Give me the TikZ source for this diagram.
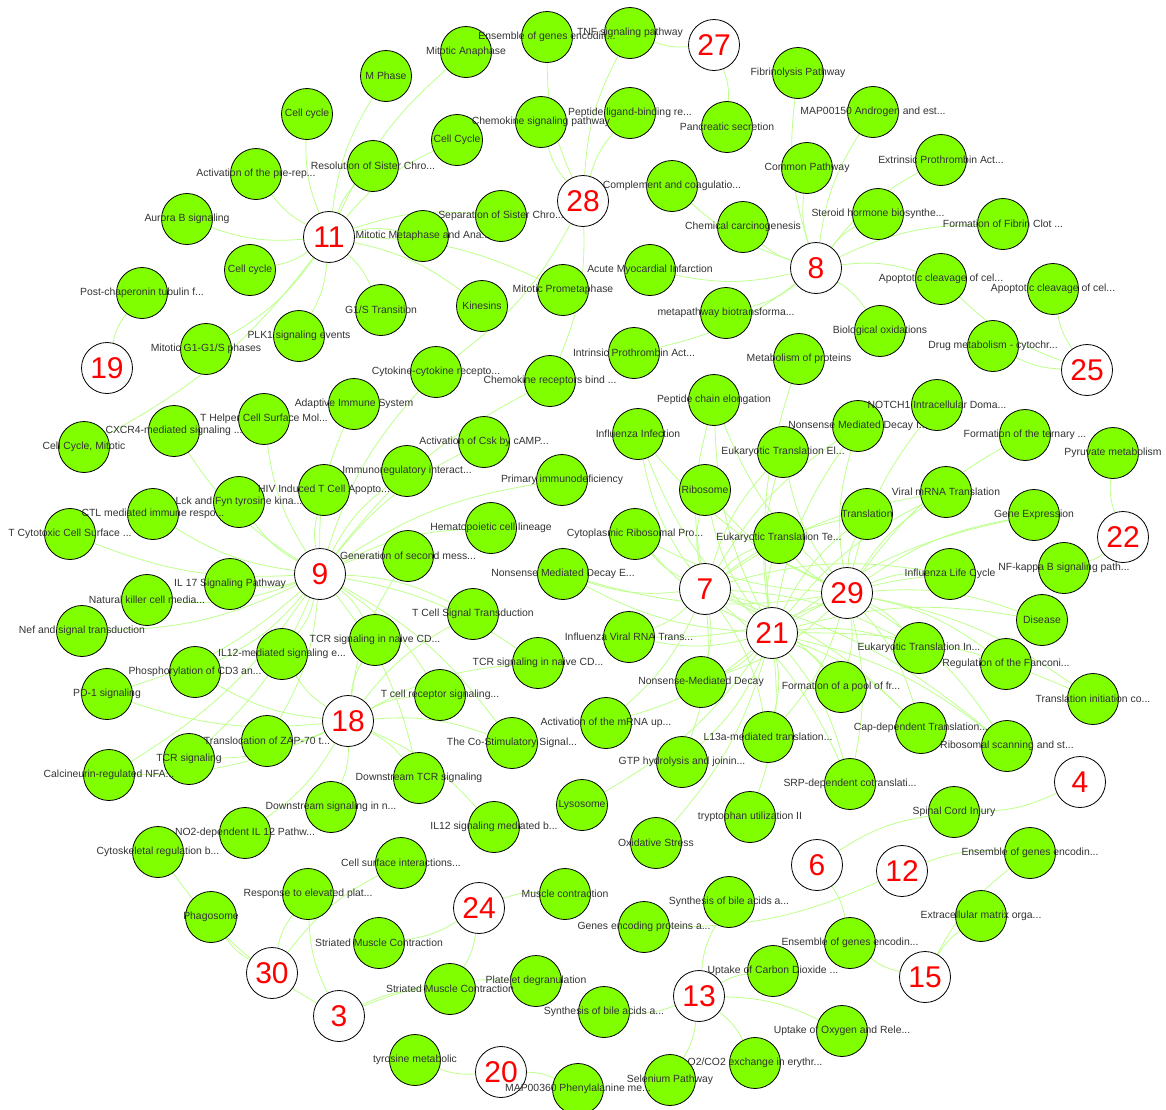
\documentclass[tikz,border=0pt]{standalone}
\usepackage{fontspec}
\setmainfont{Liberation Sans}
\usetikzlibrary{backgrounds}
\pgfdeclarelayer{fg}
\pgfsetlayers{background,main,fg}
\definecolor{ngreen}{RGB}{128,255,0}
\definecolor{egreen}{RGB}{190,255,140}
\tikzset{
  gnode/.style={circle, draw=black, line width=0.8pt, fill=ngreen, minimum size=51pt, inner sep=0pt},
  hub/.style={circle, draw=black, line width=0.8pt, fill=white, minimum size=51pt, inner sep=0pt, text=red, font=\fontsize{30}{30}\selectfont},
  lab/.style={font=\fontsize{10.4}{12}\selectfont, text=black!80, inner sep=0pt},
  conn/.style={draw=egreen, line width=0.8pt, bend left=12}
}
\begin{document}
\begin{tikzpicture}[x=1pt,y=-1pt]
\useasboundingbox (0,0) rectangle (1166,1109);
% hubs
\foreach \n/\x/\y in {27/714/45, 28/583/201, 11/329/237, 8/816/268, 19/107/368, 25/1087/370, 22/1123/537, 9/320/574, 7/705/589, 29/847/593, 21/772/633, 18/348/721, 4/1080/782, 6/817/865, 12/902/871, 24/479/908, 15/925/977, 30/272/973, 13/699/996, 3/339/1016, 20/501/1072}
  {\node[hub] (h\n) at (\x,\y) {\n};}
% green nodes
\foreach \n/\x/\y/\t in {
1/547/37/{Ensemble of genes encodin...},
2/630/33/{TNF signaling pathway},
3/466/52/{Mitotic Anaphase},
4/386/76/{M Phase},
5/307/114/{Cell cycle},
6/457/140/{Cell Cycle},
7/541/122/{Chemokine signaling pathway},
8/630/113/{Peptide ligand-binding re...},
9/727/127/{Pancreatic secretion},
10/798/73/{Fibrinolysis Pathway},
11/873/112/{MAP00150 Androgen and est...},
12/807/168/{Common Pathway},
13/941/160/{Extrinsic Prothrombin Act...},
14/878/214/{Steroid hormone biosynthe...},
15/1003/224/{Formation of Fibrin Clot ...},
16/672/186/{Complement and coagulatio...},
17/743/227/{Chemical carcinogenesis},
18/373/166/{Resolution of Sister Chro...},
19/256/174/{Activation of the pre-rep...},
20/187/219/{Aurora B signaling},
21/250/270/{Cell cycle},
22/501/216/{Separation of Sister Chro...},
23/423/236/{Mitotic Metaphase and Ana...},
24/650/270/{Acute Myocardial Infarction},
25/563/290/{Mitotic Prometaphase},
26/482/306/{Kinesins},
27/381/310/{G1/S Transition},
28/726/313/{metapathway biotransforma...},
29/142/293/{Post-chaperonin tubulin f...},
30/206/349/{Mitotic G1-G1/S phases},
31/299/336/{PLK1 signaling events},
32/941/279/{Apoptotic cleavage of cel...},
33/1053/289/{Apoptotic cleavage of cel...},
34/880/331/{Biological oxidations},
35/993/346/{Drug metabolism - cytochr...},
36/799/359/{Metabolism of proteins},
37/634/353/{Intrinsic Prothrombin Act...},
38/436/372/{Cytokine-cytokine recepto...},
39/550/381/{Chemokine receptors bind ...},
40/354/404/{Adaptive Immune System},
41/264/419/{T Helper Cell Surface Mol...},
42/174/431/{CXCR4-mediated signaling ...},
43/84/447/{Cell Cycle, Mitotic},
44/714/400/{Peptide chain elongation},
45/638/434/{Influenza Infection},
46/484/442/{Activation of Csk by cAMP...},
47/407/471/{Immunoregulatory interact...},
48/562/480/{Primary immunodeficiency},
49/324/490/{HIV Induced T Cell Apopto...},
50/239/502/{Lck and Fyn tyrosine kina...},
51/153/514/{CTL mediated immune respo...},
52/70/534/{T Cytotoxic Cell Surface ...},
53/705/490/{Ribosome},
54/491/528/{Hematopoietic cell lineage},
55/635/534/{Cytoplasmic Ribosomal Pro...},
56/783/452/{Eukaryotic Translation El...},
57/858/426/{Nonsense Mediated Decay I...},
58/937/405/{NOTCH1 Intracellular Doma...},
59/1025/435/{Formation of the ternary ...},
60/1113/453/{Pyruvate metabolism},
61/946/492/{Viral mRNA Translation},
62/867/514/{Translation},
63/1034/515/{Gene Expression},
64/779/538/{Eukaryotic Translation Te...},
65/408/556/{Generation of second mess...},
66/230/584/{IL 17 Signaling Pathway},
67/147/600/{Natural killer cell media...},
68/82/631/{Nef and signal transduction},
69/563/574/{Nonsense Mediated Decay E...},
70/473/614/{T Cell Signal Transduction},
71/375/640/{TCR signaling in naive CD...},
72/629/637/{Influenza Viral RNA Trans...},
73/282/654/{IL12-mediated signaling e...},
74/538/663/{TCR signaling in naive CD...},
75/195/672/{Phosphorylation of CD3 an...},
76/107/694/{PD-1 signaling},
77/701/682/{Nonsense-Mediated Decay},
78/440/695/{T cell receptor signaling...},
79/841/687/{Formation of a pool of fr...},
80/919/648/{Eukaryotic Translation In...},
81/1006/664/{Regulation of the Fanconi...},
82/1042/620/{Disease},
83/950/574/{Influenza Life Cycle},
84/1064/568/{NF-kappa B signaling path...},
85/1093/699/{Translation initiation co...},
86/921/728/{Cap-dependent Translation...},
87/1007/746/{Ribosomal scanning and st...},
88/850/784/{SRP-dependent cotranslati...},
89/768/737/{L13a-mediated translation...},
90/606/723/{Activation of the mRNA up...},
91/682/762/{GTP hydrolysis and joinin...},
92/512/743/{The Co-Stimulatory Signal...},
93/267/741/{Translocation of ZAP-70 t...},
94/189/759/{TCR signaling},
95/109/775/{Calcineurin-regulated NFA...},
96/419/778/{Downstream TCR signaling},
97/331/807/{Downstream signaling in n...},
98/582/805/{Lysosome},
99/750/817/{tryptophan utilization II},
100/494/827/{IL12 signaling mediated b...},
101/245/833/{NO2-dependent IL 12 Pathw...},
102/158/852/{Cytoskeletal regulation b...},
103/656/843/{Oxidative Stress},
104/954/812/{Spinal Cord Injury},
105/1030/853/{Ensemble of genes encodin...},
106/401/863/{Cell surface interactions...},
107/308/894/{Response to elevated plat...},
108/211/917/{Phagosome},
109/379/943/{Striated Muscle Contraction},
110/565/894/{Muscle contraction},
111/644/927/{Genes encoding proteins a...},
112/729/902/{Synthesis of bile acids a...},
113/981/916/{Extracellular matrix orga...},
114/850/943/{Ensemble of genes encodin...},
115/773/971/{Uptake of Carbon Dioxide ...},
116/450/989/{Striated Muscle Contraction},
117/536/981/{Platelet degranulation},
118/604/1012/{Synthesis of bile acids a...},
119/842/1031/{Uptake of Oxygen and Rele...},
120/415/1060/{tyrosine metabolic},
121/578/1089/{MAP00360 Phenylalanine me...},
122/670/1080/{Selenium Pathway},
123/755/1063/{O2/CO2 exchange in erythr...}}
  {\node[gnode] (g\n) at (\x,\y) {};
   \begin{pgfonlayer}{fg}\node[lab] (l\n) at (\x,\y) {\t};\end{pgfonlayer}}
% connectors
\begin{scope}[on background layer]
\fill[white] (0,0) rectangle (1166,1109);
\foreach \h/\lst in {
27/{2,9},
28/{1,7,2,8,39,38},
8/{10,11,12,13,14,15,16,17,24,28,37,34,32},
25/{33,35,32},
22/{60,84},
19/{29},
11/{3,4,5,6,18,19,20,21,22,23,25,26,27,30,31,43},
9/{40,41,42,47,46,48,49,50,51,52,54,65,66,67,68,70,71,73,74,75,38,39,78,92,76,93,94,95,96},
18/{71,73,75,76,93,94,95,96,97,101,100,78,92,70,74,65},
7/{44,45,53,55,56,57,64,62,61,83,80,79,86,88,89,91,90,77,72,69,87},
21/{44,45,53,55,56,57,64,62,61,83,80,79,86,87,88,89,91,90,77,72,69,36,98,103,99,85,82,63},
29/{44,56,57,58,59,61,62,63,64,53,83,82,80,81,85,86,87,88,79,89,77,72,69,55,45},
4/{104},
6/{104,114},
12/{105,111},
15/{113,105,114},
13/{112,115,118,122,123,119},
24/{110,109,116},
30/{108,107,106},
3/{102,107,117,116},
20/{120,121}}
  {\foreach \g in \lst {\draw[conn] (h\h) to (g\g);}}
\end{scope}
\end{tikzpicture}
\end{document}
